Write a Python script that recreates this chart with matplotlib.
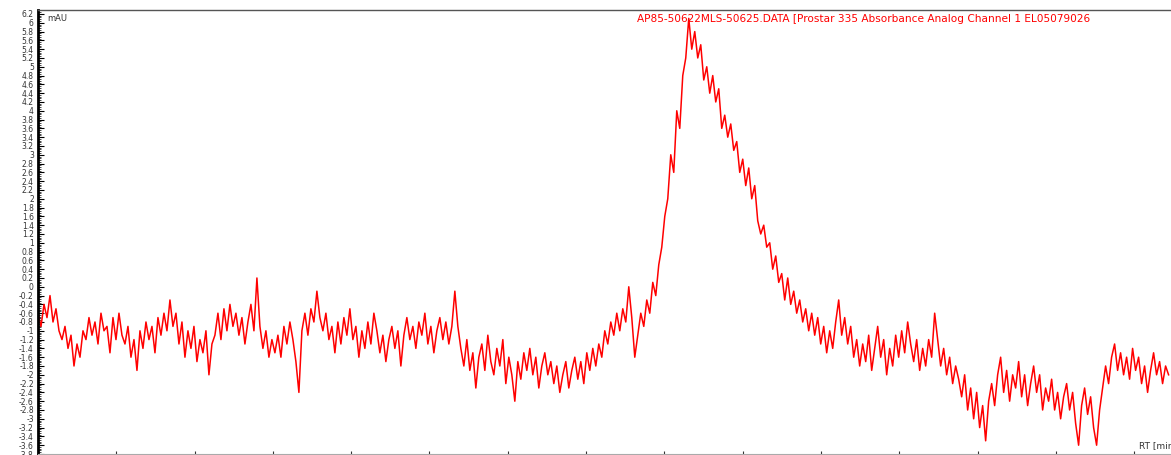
import numpy as np
import matplotlib.pyplot as plt
from matplotlib.ticker import MultipleLocator, AutoMinorLocator, FormatStrFormatter

# detector trace, mAU at a fixed sampling step
mau_baseline = [-0.6, -0.9, -0.4, -0.7, -0.2, -0.8, -0.5, -1.0, -1.2, -0.9,
                -1.4, -1.1, -1.8, -1.3, -1.6, -1.0, -1.2, -0.7, -1.1, -0.8,
                -1.3, -0.6, -1.0, -0.9, -1.5, -0.7, -1.2, -0.6, -1.1, -1.3,
                -0.9, -1.6, -1.2, -1.9, -1.0, -1.4, -0.8, -1.2, -0.9, -1.5,
                -0.7, -1.1, -0.6, -1.0, -0.3, -0.9, -0.6, -1.3, -0.8, -1.6,
                -1.0, -1.4, -0.9, -1.7, -1.2, -1.5, -1.0, -2.0, -1.3, -1.1,
                -0.6, -1.2, -0.5, -1.0, -0.4, -0.9, -0.6, -1.1, -0.7, -1.3,
                -0.8, -0.4, -1.0, 0.2, -0.9, -1.4, -1.0, -1.6, -1.2, -1.5,
                -1.1, -1.6, -0.9, -1.3, -0.8, -1.2, -1.7, -2.4, -1.0, -0.6,
                -1.1, -0.5, -0.8, -0.1, -0.7, -1.0, -0.6, -1.2, -0.9, -1.5,
                -0.8, -1.3, -0.7, -1.1, -0.5, -1.2, -0.9, -1.6, -1.0, -1.4,
                -0.8, -1.3, -0.6, -1.0, -1.5, -1.1, -1.7, -1.2, -0.9, -1.4,
                -1.0, -1.8, -1.1, -0.7, -1.2, -0.9, -1.4, -0.8, -1.1, -0.6,
                -1.3, -0.9, -1.5, -1.0, -0.7, -1.2, -0.8, -1.3, -0.9, -0.1,
                -0.9]
mau_dip = [-1.4, -1.8, -1.2, -1.9, -1.5, -2.3, -1.6, -1.3, -1.9, -1.1,
           -1.7, -2.0, -1.4, -1.8, -1.2, -2.2, -1.6, -2.0, -2.6, -1.7,
           -2.1, -1.5, -1.9, -1.4, -2.0, -1.6, -2.3, -1.8, -1.5, -2.0,
           -1.7, -2.2, -1.8, -2.4, -2.0, -1.7, -2.3, -1.9, -1.6, -2.1,
           -1.7, -2.2, -1.5, -1.9, -1.4, -1.8, -1.3]
mau_rise = [-1.6, -1.0, -1.3, -0.8, -1.1, -0.6, -1.0, -0.5, -0.8, 0.0,
            -0.7, -1.6, -1.1, -0.6, -0.9, -0.3, -0.6, 0.1, -0.2, 0.5]
mau_peak = [0.9, 1.6, 2.0, 3.0, 2.6, 4.0, 3.6, 4.8, 5.2, 6.1,
            5.4, 5.8, 5.2, 5.5, 4.7, 5.0, 4.4, 4.8, 4.2, 4.5,
            3.6, 3.9, 3.4, 3.7, 3.1, 3.3, 2.6, 2.9, 2.3, 2.7,
            2.0, 2.3, 1.5, 1.2, 1.4, 0.9, 1.0, 0.4, 0.7, 0.1,
            0.3, -0.3, 0.2, -0.4, -0.1, -0.6]
mau_tail = [-0.3, -0.8, -0.5, -1.0, -0.6, -1.1, -0.7, -1.3, -0.9, -1.5,
            -1.0, -1.4, -0.8, -0.3, -1.1, -0.7, -1.3, -0.9, -1.6, -1.2,
            -1.8, -1.3, -1.7, -1.1, -1.9, -1.4, -0.9, -1.6, -1.2, -2.0,
            -1.4, -1.8, -1.1, -1.6, -1.0, -1.5, -0.8, -1.3, -1.7, -1.2,
            -1.9, -1.4, -1.8, -1.2, -1.6, -0.6, -1.2, -1.8, -1.4, -2.0,
            -1.6, -2.2, -1.8, -2.1]
mau_end = [-2.5, -2.0, -2.8, -2.3, -3.0, -2.4, -3.2, -2.7, -3.5, -2.6,
           -2.2, -2.7, -2.0, -1.6, -2.4, -1.9, -2.6, -2.0, -2.3, -1.7,
           -2.5, -2.0, -2.7, -2.2, -1.8, -2.4, -2.0, -2.8, -2.3, -2.6,
           -2.1, -2.8, -2.4, -3.0, -2.5, -2.2, -2.8, -2.4, -3.1, -3.6,
           -2.7, -2.3, -2.9, -2.5, -3.2, -3.6, -2.8, -2.3, -1.8, -2.2,
           -1.6, -1.3, -1.9, -1.5, -2.0, -1.6, -2.1, -1.4, -1.9, -1.6,
           -2.2, -1.8, -2.4, -1.9, -1.5, -2.0, -1.7, -2.2, -1.8, -2.0]

mau = mau_baseline + mau_dip + mau_rise + mau_peak + mau_tail + mau_end
dt = 0.0383  # min between samples
rt = np.arange(len(mau)) * dt

trace_name = "AP85-50622MLS-50625.DATA [Prostar 335 Absorbance Analog Channel 1 EL05079026"

fig = plt.figure(figsize=(11.71, 4.55), dpi=100)
ax = fig.add_axes([38/1171, 1/455, 1 - 38/1171, 444/455])
ax.plot(rt, mau, color="#ff0000", lw=1.1)

ax.set_xlim(0, 14.47)
ax.set_ylim(-3.8, 6.29)

ax.yaxis.set_major_locator(MultipleLocator(0.2))
ax.yaxis.set_minor_locator(AutoMinorLocator(5))
ax.yaxis.set_major_formatter(FormatStrFormatter("%g"))
ax.xaxis.set_major_locator(MultipleLocator(1))
ax.tick_params(axis="y", which="major", direction="in", length=4, width=0.8,
               labelsize=5.5, pad=3, labelcolor="#333333")
ax.tick_params(axis="y", which="minor", direction="in", length=2, width=0.5)
ax.tick_params(axis="x", which="major", direction="in", length=2, width=0.8,
               labelbottom=False, color="#333333")

ax.spines["left"].set_linewidth(2)
ax.spines["left"].set_color("black")
ax.spines["top"].set_color("#555555")
ax.spines["top"].set_linewidth(1)
ax.spines["bottom"].set_color("#aaaaaa")
ax.spines["right"].set_visible(False)

ax.text(0.008, 0.99, "mAU", transform=ax.transAxes, fontsize=6,
        va="top", ha="left", color="#333333")
# the run time label runs off the right edge, as in the original export
ax.text(1101/1133, 0.008, "RT [min]", transform=ax.transAxes, fontsize=6.5,
        va="bottom", ha="left", color="#333333", clip_on=False)
ax.text((637-38)/1133, 0.99, trace_name, transform=ax.transAxes, fontsize=7.6,
        va="top", ha="left", color="#ff0000")

fig.savefig("out.png", dpi=100)
